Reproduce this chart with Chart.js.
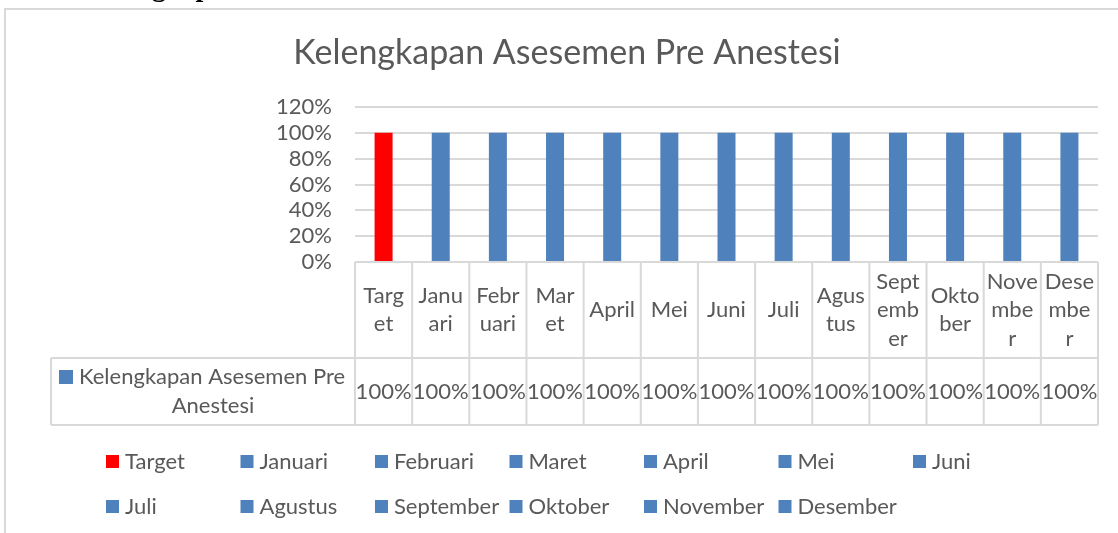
<!DOCTYPE html>
<html>
<head>
<meta charset="utf-8">
<script src="https://cdn.jsdelivr.net/npm/chart.js@4/dist/chart.umd.min.js"></script>
<style>
  html, body { margin: 0; padding: 0; background: #fff; }
  canvas { display: block; }
</style>
</head>
<body>
<canvas id="myBarChart" width="1118" height="533"></canvas>
<script>
// chart data
const chartTitle = 'Kelengkapan Asesemen Pre Anestesi';
const seriesName = 'Kelengkapan Asesemen Pre Anestesi';
const categories = ['Target', 'Januari', 'Februari', 'Maret', 'April', 'Mei', 'Juni',
    'Juli', 'Agustus', 'September', 'Oktober', 'November', 'Desember'];
// header cells of the data table, wrapped the way the picture shows them
const headerLines = [['Targ', 'et'], ['Janu', 'ari'], ['Febr', 'uari'], ['Mar', 'et'], ['April'],
    ['Mei'], ['Juni'], ['Juli'], ['Agus', 'tus'], ['Sept', 'emb', 'er'], ['Okto', 'ber'],
    ['Nove', 'mbe', 'r'], ['Dese', 'mbe', 'r']];
const values = [1.00, 1.00, 1.00, 1.00, 1.00, 1.00, 1.00, 1.00, 1.00, 1.00, 1.00, 1.00, 1.00];
const yTicks = [0, 0.2, 0.4, 0.6, 0.8, 1.0, 1.2];

const textColor = '#595959';
const lineColor = '#d9d9d9';
const targetColor = '#ff0000';
const monthColor = '#4f81bd';
const fontFamily = 'Lato, "Open Sans", sans-serif';

function colorFor(i) {
    return categories[i] === 'Target' ? targetColor : monthColor;
}

function pct(v) {
    return Math.round(v * 100) + '%';
}

// frame, title, data table and legend drawn around the plot
const excelExtras = {
    id: 'excelExtras',
    beforeDraw(chart) {
        const ctx = chart.ctx;
        ctx.save();
        ctx.strokeStyle = lineColor;
        ctx.lineWidth = 2;
        ctx.strokeRect(5, 9, 1300, 700);
        // cut-off heading of the document above the chart
        ctx.fillStyle = '#000';
        ctx.font = 'bold 28px "Liberation Serif", serif';
        ctx.textAlign = 'left';
        ctx.textBaseline = 'alphabetic';
        ctx.fillText('Kelengkapan', 82, -4);
        ctx.restore();
    },
    afterDraw(chart) {
        const ctx = chart.ctx;
        const area = chart.chartArea;
        const x = chart.scales.x;
        const n = categories.length;
        const colW = (area.right - area.left) / n;
        const top = area.bottom;
        const mid = 358;
        const bottom = 425;
        const rowLeft = 51;

        ctx.save();
        // title
        ctx.fillStyle = textColor;
        ctx.font = '34px ' + fontFamily;
        ctx.textAlign = 'center';
        ctx.textBaseline = 'middle';
        ctx.fillText(chartTitle, 567, 53);

        // table grid
        ctx.strokeStyle = lineColor;
        ctx.lineWidth = 2;
        ctx.beginPath();
        ctx.moveTo(area.left, top); ctx.lineTo(area.right, top);
        ctx.moveTo(rowLeft, mid); ctx.lineTo(area.right, mid);
        ctx.moveTo(rowLeft, bottom); ctx.lineTo(area.right, bottom);
        ctx.moveTo(rowLeft, mid); ctx.lineTo(rowLeft, bottom);
        for (let i = 0; i <= n; i++) {
            const bx = area.left + i * colW;
            ctx.moveTo(bx, top); ctx.lineTo(bx, bottom);
        }
        ctx.stroke();

        // header labels
        ctx.font = '22px ' + fontFamily;
        const lh = 28.5;
        headerLines.forEach((lines, i) => {
            const cx = x.getPixelForValue(i);
            const cy = (top + mid) / 2 - (lines.length - 1) * lh / 2;
            lines.forEach((t, k) => ctx.fillText(t, cx, cy + k * lh));
        });

        // value row
        values.forEach((v, i) => {
            ctx.fillText(pct(v), x.getPixelForValue(i), (mid + bottom) / 2);
        });

        // row label with series key
        ctx.fillStyle = monthColor;
        ctx.fillRect(59, 370, 14, 14);
        ctx.fillStyle = textColor;
        ctx.textAlign = 'left';
        ctx.fillText('Kelengkapan Asesemen Pre', 79, 377);
        ctx.textAlign = 'center';
        ctx.fillText('Anestesi', 213, 406);

        // legend, 7 items per row
        ctx.textAlign = 'left';
        categories.forEach((c, i) => {
            const lx = 106 + (i % 7) * 134.5;
            const ly = 462 + Math.floor(i / 7) * 45;
            ctx.fillStyle = colorFor(i);
            ctx.fillRect(lx, ly - 7, 13, 13);
            ctx.fillStyle = textColor;
            ctx.fillText(c, lx + 19, ly);
        });
        ctx.restore();
    }
};

const ctx = document.getElementById('myBarChart');
const myBarChart = new Chart(ctx, {
    type: 'bar',
    data: {
        labels: categories,
        datasets: [{
            label: seriesName,
            data: values,
            backgroundColor: categories.map((c, i) => colorFor(i)),
            barPercentage: 0.315,
            categoryPercentage: 1
        }]
    },
    options: {
        responsive: false,
        animation: false,
        devicePixelRatio: 1,
        layout: {
            padding: { left: 0, right: 20, top: 107, bottom: 271 }
        },
        scales: {
            x: {
                display: false
            },
            y: {
                min: 0,
                max: 1.2,
                afterFit: function(scale) { scale.width = 355; },
                afterBuildTicks: function(scale) {
                    scale.ticks = yTicks.map(v => ({ value: v }));
                },
                border: { display: false },
                grid: {
                    color: lineColor,
                    lineWidth: 2,
                    drawTicks: false
                },
                ticks: {
                    autoSkip: false,
                    padding: 23,
                    color: textColor,
                    font: { family: fontFamily, size: 22 },
                    callback: function(value) { return pct(value); }
                }
            }
        },
        plugins: {
            legend: { display: false },
            tooltip: { enabled: false }
        }
    },
    plugins: [excelExtras]
});
</script>
</body>
</html>
